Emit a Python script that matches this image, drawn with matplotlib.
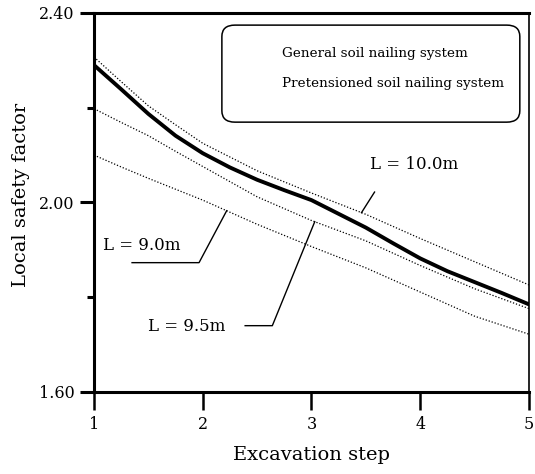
import matplotlib.pyplot as plt
import numpy as np
from matplotlib.patches import FancyBboxPatch

plt.rcParams['font.family'] = ['DejaVu Serif']

steps_fine = [1.0, 1.25, 1.5, 1.75, 2.0, 2.25, 2.5, 2.75, 3.0,
              3.25, 3.5, 3.75, 4.0, 4.25, 4.5, 4.75, 5.0]
steps = [1.0, 1.25, 1.5, 1.75, 2.0, 2.5, 3.0, 3.5, 4.0, 4.5, 5.0]

# general soil nailing system (bold line)
fs_general = [2.29, 2.239, 2.187, 2.141, 2.104, 2.074, 2.048, 2.026, 2.005,
              1.976, 1.947, 1.914, 1.882, 1.855, 1.832, 1.809, 1.785]

# pretensioned soil nailing system, by nail length
fs_pre_10 = [2.307, 2.255, 2.204, 2.164, 2.125, 2.067, 2.020, 1.975, 1.924, 1.875, 1.826]
fs_pre_95 = [2.198, 2.169, 2.141, 2.108, 2.076, 2.012, 1.962, 1.919, 1.867, 1.818, 1.776]
fs_pre_90 = [2.100, 2.075, 2.051, 2.028, 2.005, 1.954, 1.907, 1.862, 1.811, 1.760, 1.722]

length_labels = ['L = 10.0m', 'L = 9.5m', 'L = 9.0m']
legend_labels = ['General soil nailing system', 'Pretensioned soil nailing system']

xticks = [1, 2, 3, 4, 5]
yticks = [1.60, 2.00, 2.40]
yticks_minor = [1.80, 2.20]

fig = plt.figure(figsize=(5.35, 4.74), dpi=100)
ax = fig.add_axes([0.1757, 0.173, 0.813, 0.7996])

dot = (0, (1, 1.5))
ax.plot(steps_fine, fs_general, color='black', lw=2.8, solid_joinstyle='round')
for ys in (fs_pre_10, fs_pre_95, fs_pre_90):
    ax.plot(steps, ys, color='black', lw=0.9, linestyle=dot)

ax.set_xlim(1, 5)
ax.set_ylim(1.60, 2.40)
ax.set_xticks(xticks)
ax.set_xticklabels([str(t) for t in xticks])
ax.set_yticks(yticks)
ax.set_yticklabels(['%.2f' % t for t in yticks])
ax.set_yticks(yticks_minor, minor=True)

ax.tick_params(axis='x', direction='out', length=13, width=1.8, labelsize=11.5, pad=4)
ax.tick_params(axis='y', which='major', direction='out', length=10, width=2.2, labelsize=11.5, pad=4)
ax.tick_params(axis='y', which='minor', direction='out', length=5, width=2.2)

for side in ('left', 'top', 'bottom'):
    ax.spines[side].set_linewidth(2.2)
ax.spines['right'].set_linewidth(1.2)

ax.set_xlabel('Excavation step', fontsize=14, labelpad=10)
ax.set_ylabel('Local safety factor', fontsize=14, labelpad=8)
ax.yaxis.set_label_coords(-0.148, 0.52)

# legend box (text only, rounded frame)
box = FancyBboxPatch((0.294, 0.712), 0.685, 0.256, transform=ax.transAxes,
                     boxstyle='round,pad=0,rounding_size=0.03', fc='white',
                     ec='black', lw=1.1, zorder=3)
ax.add_patch(box)
ax.text(0.432, 0.894, legend_labels[0], transform=ax.transAxes, fontsize=9.7,
        va='center', ha='left', zorder=4)
ax.text(0.432, 0.815, legend_labels[1], transform=ax.transAxes, fontsize=9.7,
        va='center', ha='left', zorder=4)

# leader lines for length labels: (text, text x, text y, elbow path, target step, series)
leaders = [
    (length_labels[0], 3.54, 2.08, [(3.58, 2.022)], 3.46, fs_pre_10),
    (length_labels[1], 1.50, 1.738, [(2.39, 1.74), (2.64, 1.74)], 3.03, fs_pre_95),
    (length_labels[2], 1.08, 1.909, [(1.35, 1.873), (1.966, 1.873)], 2.22, fs_pre_90),
]
for label, tx, ty, path, xt, ys in leaders:
    ax.text(tx, ty, label, fontsize=12, va='center', ha='left')
    yt = np.interp(xt, steps, ys)
    px = [p[0] for p in path] + [xt]
    py = [p[1] for p in path] + [yt]
    ax.plot(px, py, color='black', lw=1.0)

fig.savefig('out.png', dpi=100)
